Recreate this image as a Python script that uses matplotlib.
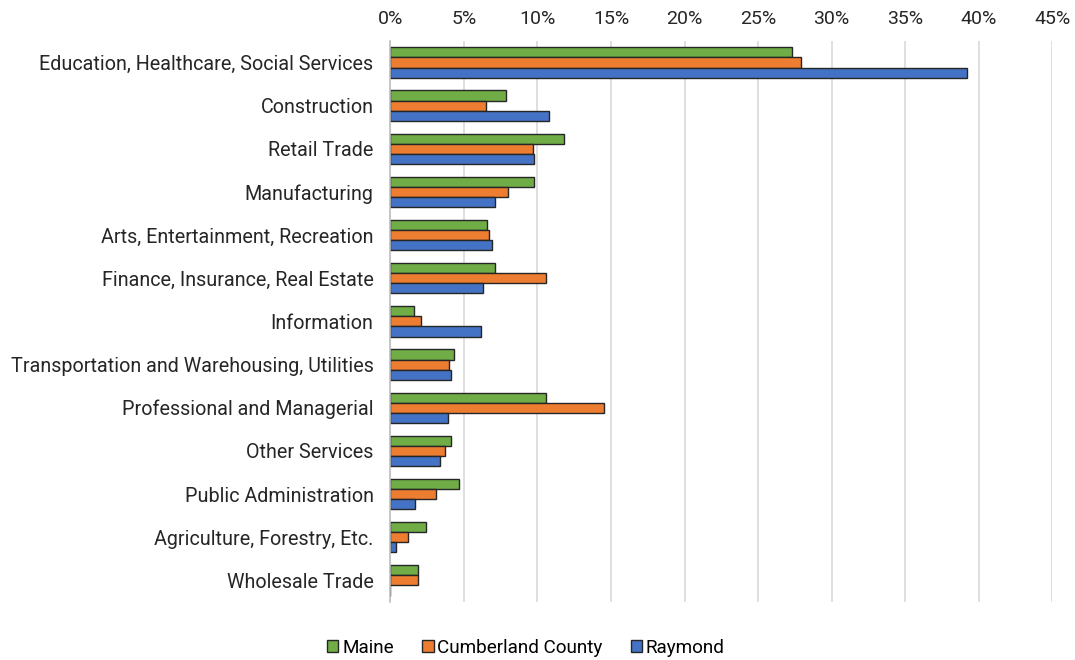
import matplotlib.pyplot as plt
import numpy as np
from matplotlib.ticker import PercentFormatter

plt.rcParams['font.family'] = ['Roboto', 'DejaVu Sans']

categories = [
    "Education, Healthcare, Social Services",
    "Construction",
    "Retail Trade",
    "Manufacturing",
    "Arts, Entertainment, Recreation",
    "Finance, Insurance, Real Estate",
    "Information",
    "Transportation and Warehousing, Utilities",
    "Professional and Managerial",
    "Other Services",
    "Public Administration",
    "Agriculture, Forestry, Etc.",
    "Wholesale Trade",
]

maine = [27.3, 7.9, 11.8, 9.8, 6.6, 7.1, 1.6, 4.3, 10.6, 4.1, 4.7, 2.4, 1.9]
cumberland = [27.9, 6.5, 9.7, 8.0, 6.7, 10.6, 2.1, 4.0, 14.5, 3.7, 3.1, 1.2, 1.9]
raymond = [39.2, 10.8, 9.8, 7.1, 6.9, 6.3, 6.2, 4.1, 3.9, 3.4, 1.7, 0.4, 0.0]

series = [("Maine", maine, "#70AD47"),
          ("Cumberland County", cumberland, "#ED7D31"),
          ("Raymond", raymond, "#4472C4")]

fig = plt.figure(figsize=(10.75, 6.6), dpi=100)
ax = fig.add_axes([0.363, 0.088, 0.616, 0.85])

y = np.arange(len(categories))
h = 0.235
for i, (name, vals, color) in enumerate(series):
    ax.barh(y + (i - 1) * h, vals, height=h, color=color,
            edgecolor="#262626", linewidth=1.0, label=name)

ax.set_yticks(y)
ax.set_yticklabels(categories, fontsize=14.2, color="#262626")
ax.set_ylim(len(categories) - 0.5, -0.5)

ax.set_xlim(0, 45)
ax.set_xticks(np.arange(0, 46, 5))
ax.xaxis.set_major_formatter(PercentFormatter(decimals=0))
ax.xaxis.tick_top()
ax.tick_params(axis="x", length=0, labelsize=14, colors="#262626", pad=9)
ax.tick_params(axis="y", length=0, pad=12)
ax.grid(axis="x", color="#D9D9D9", linewidth=1.2)
ax.set_axisbelow(True)

for s in ["top", "right", "bottom"]:
    ax.spines[s].set_visible(False)
ax.spines["left"].set_color("#BFBFBF")
ax.spines["left"].set_linewidth(1.2)

ax.legend(loc="upper center", bbox_to_anchor=(0.205, -0.035), ncol=3,
          frameon=False, fontsize=13.6, handlelength=0.6, handleheight=0.6,
          handletextpad=0.2, columnspacing=1.5)

fig.savefig("out.png", dpi=100)
